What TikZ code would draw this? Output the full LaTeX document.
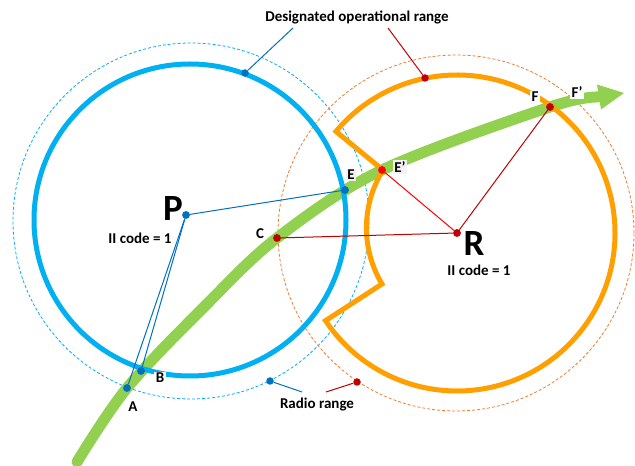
\documentclass[tikz,border=0pt]{standalone}
\usepackage{fontspec}
\setmainfont{Carlito}
\usetikzlibrary{calc}
\definecolor{cblue}{HTML}{00B0F0}
\definecolor{dblue}{HTML}{0070C0}
\definecolor{dred}{HTML}{C00000}
\definecolor{bred}{HTML}{FF0000}
\definecolor{corange}{HTML}{FFA000}
\definecolor{dorange}{HTML}{ED7D31}
\definecolor{cgreen}{HTML}{92D050}
\definecolor{lgray}{HTML}{F2F2F2}
\begin{document}
\begin{tikzpicture}[x=1pt,y=1pt,
  thickblue/.style={draw=cblue,line width=5pt},
  thickorange/.style={draw=corange,line width=5pt,line join=miter},
  radioblue/.style={draw=cblue,line width=0.8pt,dash pattern=on 3pt off 2pt},
  radioorange/.style={draw=dorange,line width=0.8pt,dash pattern=on 3pt off 2pt},
  pathgreen/.style={draw=cgreen,line width=11pt,line cap=round},
  headgreen/.style={fill=cgreen},
  bluedot/.style={circle,fill=dblue,inner sep=0pt,minimum size=7.5pt},
  reddot/.style={circle,fill=dred,inner sep=0pt,minimum size=7.5pt},
  brightdot/.style={circle,fill=bred,inner sep=0pt,minimum size=7.5pt},
  bline/.style={draw=dblue,line width=1pt},
  rline/.style={draw=dred,line width=1pt},
  brline/.style={draw=bred,line width=1pt},
  lbl/.style={font=\fontsize{15}{18}\selectfont\bfseries,inner sep=1.5pt},
  codelbl/.style={font=\fontsize{15}{18}\selectfont\bfseries,inner sep=0.3pt},
  big/.style={font=\fontsize{37}{40}\selectfont\bfseries,inner sep=0pt},
]
\useasboundingbox (0,0) rectangle (635,466);
% centres
\coordinate (Pc) at (190,246);
\coordinate (Pd) at (191,245);
\coordinate (Rc) at (457,233);
\coordinate (Rd) at (456,233);
% radio ranges
\draw[radioblue] (Pd) circle[radius=178pt];
\draw[radioorange] (Rd) circle[radius=178pt];
% trajectory
\coordinate (Hb) at (599,369);
\coordinate (Ht) at (624,373);
\coordinate (Hu) at (597,381.5);
\coordinate (Hd) at (601,356.5);
\draw[pathgreen] plot[smooth,tension=0.55] coordinates {(77,4) (127,78) (205,160) (277,228) (382,296) (550,359) (599,369)};
\fill[headgreen] (Hu) -- (Ht) -- (Hd) -- cycle;
% designated operational ranges
\draw[thickblue] (Pc) circle[radius=156pt];
\draw[thickorange] ($(Rc)+(140:158pt)$) arc[start angle=140,end angle=-146.3,radius=158pt]
  -- (382,182) arc[start angle=211,end angle=148,radius=109pt] -- cycle;
% points
\node[bluedot] (P) at (186,251) {};
\node[bluedot] (E) at (345,276) {};
\node[bluedot] (A) at (127,78) {};
\node[bluedot] (B) at (141,95) {};
\node[bluedot] (D1) at (245,393) {};
\node[bluedot] (R1) at (270,85) {};
\node[reddot] (R) at (457,233) {};
\node[reddot] (C) at (277,228) {};
\node[reddot] (F) at (550,359) {};
\node[reddot] (D2) at (425,388) {};
\node[reddot] (R2) at (357,84) {};
\node[brightdot] (Ep) at (382,296) {};
% connectors
\draw[bline] (P) -- (E);
\draw[bline] (P) -- (A);
\draw[bline] (P) -- (B);
\draw[rline] (C) -- (R);
\draw[rline] (F) -- (R);
\draw[brline] (Ep) -- (R);
\coordinate (L1) at (293,438);
\coordinate (L2) at (388,438);
\coordinate (L3) at (302,74);
\coordinate (L4) at (326,74);
\draw[bline] (L1) -- (D1);
\draw[rline] (L2) -- (D2);
\draw[bline] (R1) -- (L3);
\draw[rline] (L4) -- (R2);
% redraw dots on top
\node[bluedot] at (P) {};
\node[bluedot] at (E) {};
\node[bluedot] at (A) {};
\node[bluedot] at (B) {};
\node[reddot] at (R) {};
\node[reddot] at (C) {};
\node[reddot] at (F) {};
\node[brightdot] at (Ep) {};
% labels
\node[lbl] (tdor) at (357,448) {Designated operational range};
\node[lbl] (trr) at (317,61) {Radio range};
\node[big] (tP) at (173,257) {P};
\node[codelbl] (tPc) at (140,228) {II code = 1};
\node[big] (tR) at (474,222) {R};
\node[codelbl] (tRc) at (479,196) {II code = 1};
\node[lbl] (tA) at (133,59) {A};
\node[lbl,fill=white] (tB) at (160,88) {B};
\node[lbl] (tC) at (260,232) {C};
\node[lbl,fill=lgray] (tE) at (351,291) {E};
\node[lbl,fill=lgray] (tEp) at (400,299) {E’};
\node[lbl,fill=white] (tF) at (535,369) {F};
\node[lbl,fill=white] (tFp) at (577,374) {F’};
\end{tikzpicture}
\end{document}
